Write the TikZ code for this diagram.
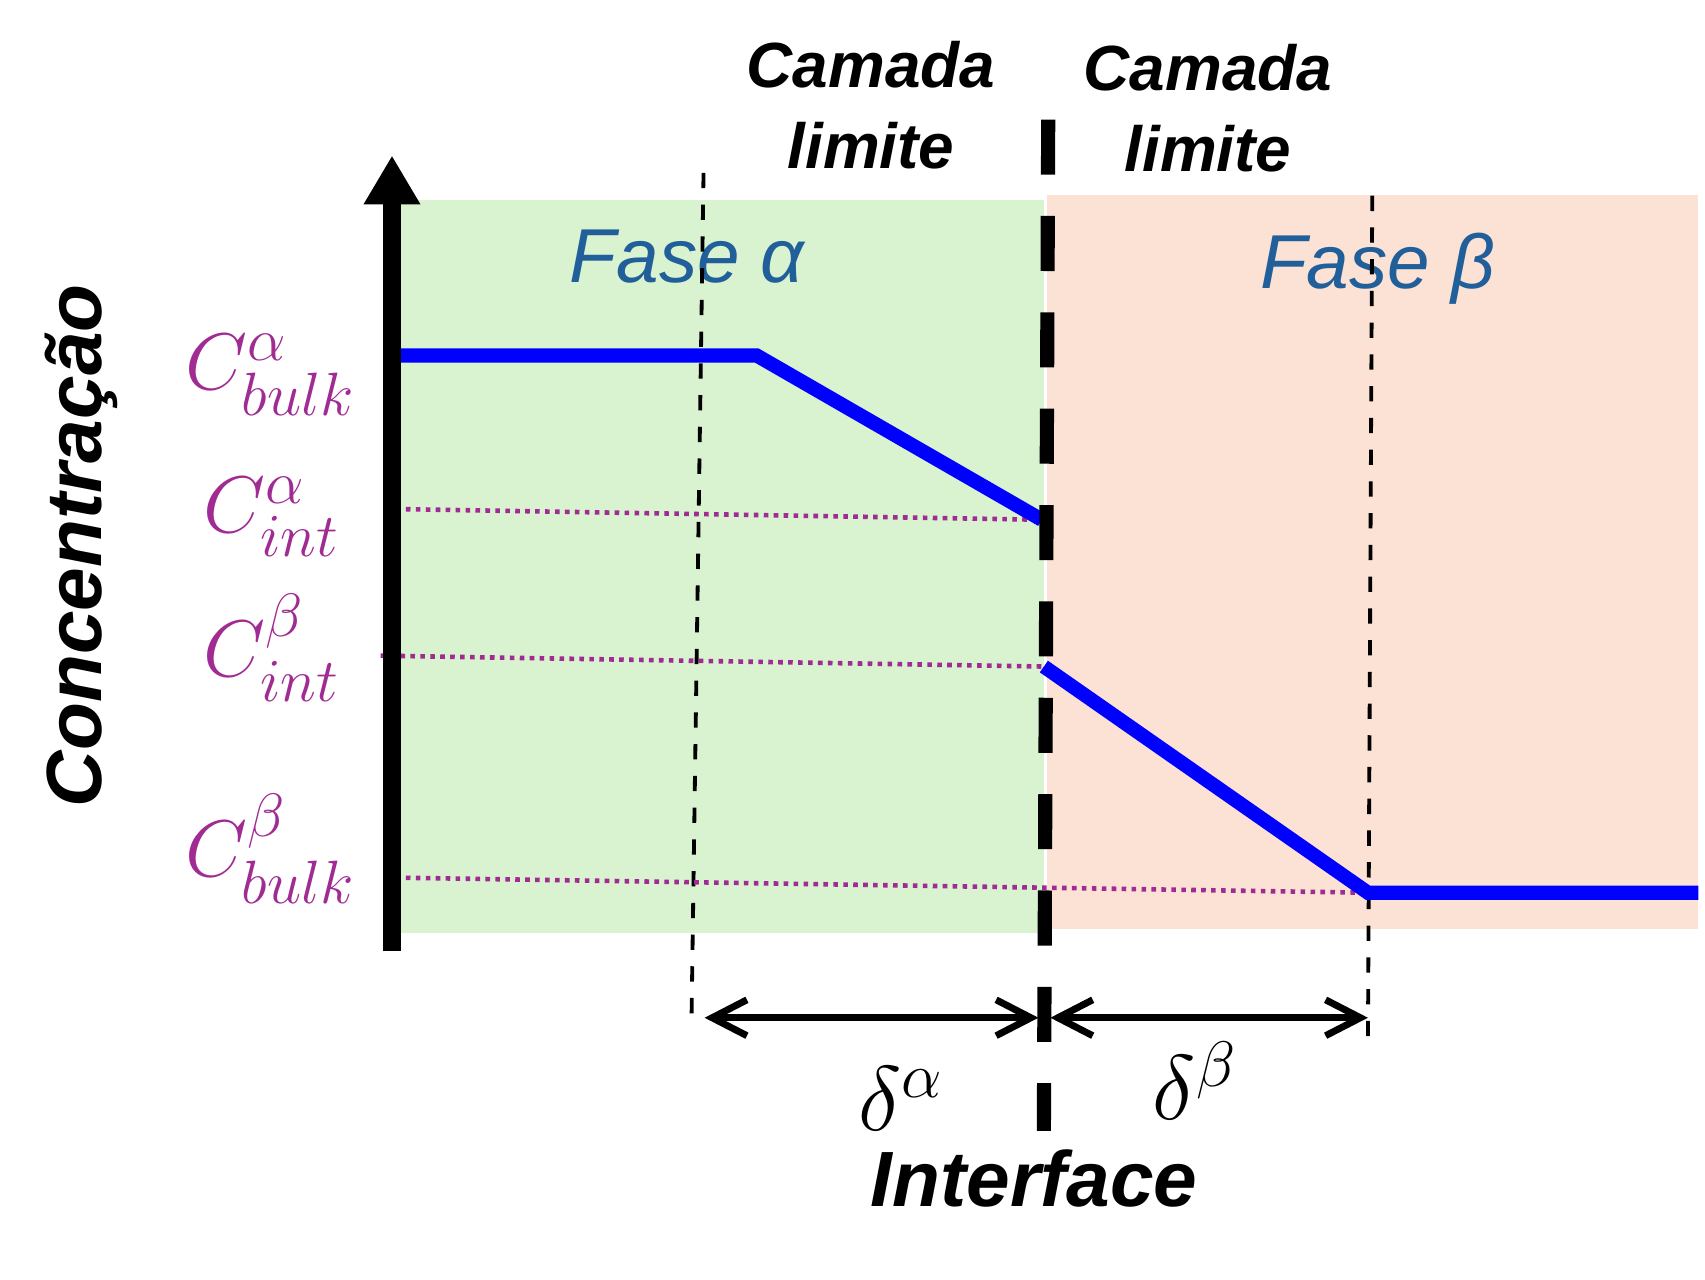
\RequirePackage{fix-cm}
\documentclass[tikz,border=0pt]{standalone}
\usepackage{amsmath}
\usepackage{fontspec}
\setmainfont{Liberation Sans}
\DeclareMathSizes{21}{21}{16}{12}
\definecolor{fasegreen}{RGB}{217,242,208}
\definecolor{fasepeach}{RGB}{251,226,213}
\definecolor{faseblue}{RGB}{33,95,154}
\definecolor{cpurple}{RGB}{160,43,147}
\usetikzlibrary{arrows.meta}
\tikzset{
	eixo/.style   = {line width=4.7pt,-{Triangle[length=4.5mm,width=4.9mm]}},
	perfil/.style = {line width=3.7pt,blue},
	interf/.style = {line width=3.7pt,dash pattern=on 14.4pt off 10.8pt},
	camada/.style = {line width=1pt,dash pattern=on 4pt off 4.3pt},
	nivel/.style  = {line width=1.2pt,cpurple,dash pattern=on 1.2pt off 1.4pt},
	dist/.style   = {line width=1.8pt,
		{Straight Barb[length=3.2mm,width=3.3mm]}-{Straight Barb[length=3.2mm,width=3.3mm]}},
	titulo/.style = {font=\fontsize{16.7}{21.3}\selectfont\bfseries\itshape,
		align=center,inner sep=0pt},
	fase/.style   = {font=\fontsize{20}{24}\selectfont\itshape,text=faseblue,
		inner sep=0pt},
	conc/.style   = {font=\fontsize{21}{25}\selectfont,text=cpurple,inner sep=0pt},
	delta/.style  = {font=\fontsize{24}{28}\selectfont,inner sep=0pt},
}

\begin{document}
\begin{tikzpicture}[x=0.01cm,y=-0.01cm]
	\useasboundingbox (0,0) rectangle (1568,1177);
	
	%% Fases
	\fill[fasegreen] (362,184) rectangle (960,858);
	\fill[fasepeach] (963,179) rectangle (1562,854);
	\node (faseA) [fase,anchor=base] at (632,260) {Fase α};
	\node (faseB) [fase,anchor=base] at (1267,265) {Fase β};
	
	%% Pontos do perfil
	\coordinate (a0) at (362,327);
	\coordinate (a1) at (696,327);
	\coordinate (a2) at (958,478);
	\coordinate (b0) at (960,613);
	\coordinate (b1) at (1258,821);
	\coordinate (b2) at (1562,821);
	
	%% Camadas limite
	\coordinate (cA1) at (647,159);
	\coordinate (cA2) at (636,935);
	\coordinate (cB1) at (1262,180);
	\coordinate (cB2) at (1258,965);
	\draw[camada] (cA1) -- (cA2);
	\draw[camada] (cB1) -- (cB2);
	\node (camA) [titulo,anchor=base] at (801,155) {Camada\\limite};
	\node (camB) [titulo,anchor=base] at (1111,158) {Camada\\limite};
	
	%% Concentracoes
	\node (cab) [conc,anchor=base] at (249,358) {$C^{\alpha}_{bulk}$};
	\node (cai) [conc,anchor=base] at (250,490) {$C^{\alpha}_{int}$};
	\node (cbi) [conc,anchor=base] at (250,622) {$C^{\beta}_{int}$};
	\node (cbb) [conc,anchor=base] at (249,806) {$C^{\beta}_{bulk}$};
	\coordinate (n1) at (355,468);
	\coordinate (n2) at (350,603);
	\coordinate (n3) at (355,807);
	\draw[nivel] (n1) -- (a2);
	\draw[nivel] (n2) -- (b0);
	\draw[nivel] (n3) -- (b1);
	
	%% Perfil
	\draw[perfil] (a0) -- (a1) -- (a2);
	\draw[perfil] (b0) -- (b1) -- (b2);
	
	%% Eixo
	\coordinate (o) at (360.5,875);
	\coordinate (ytop) at (360.5,143);
	\draw[eixo] (o) -- (ytop);
	\node (eixoy) [font=\fontsize{20.5}{24}\selectfont\bfseries\itshape,
	rotate=90,anchor=base,inner sep=0pt] at (93,502) {Concentração};
	
	%% Interface
	\coordinate (i1) at (964,110);
	\coordinate (i2) at (960,1040);
	\draw[interf] (i1) -- (i2);
	\node (interf) [font=\fontsize{20.5}{24}\selectfont\bfseries\itshape,
	anchor=base,inner sep=0pt] at (951,1110) {Interface};
	
	%% Espessuras
	\coordinate (dA1) at (648,936);
	\coordinate (dA2) at (955,936);
	\coordinate (dB1) at (966,936);
	\coordinate (dB2) at (1258,936);
	\draw[dist] (dA1) -- (dA2);
	\draw[dist] (dB1) -- (dB2);
	\node (dA) [delta,anchor=base] at (829,1040) {$\delta^{\alpha}$};
	\node (dB) [delta,anchor=base] at (1099,1030) {$\delta^{\beta}$};
\end{tikzpicture}
\end{document}
